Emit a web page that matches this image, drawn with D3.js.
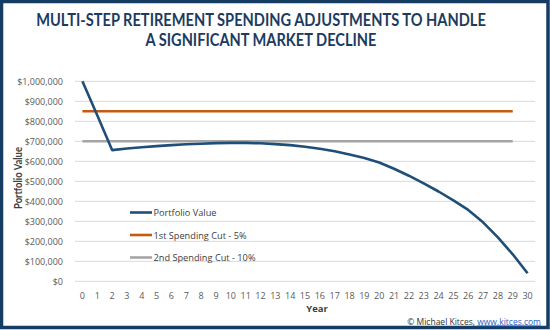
<!DOCTYPE html>
<html>
<head>
<meta charset="utf-8">
<script src="https://cdn.jsdelivr.net/npm/d3@7"></script>
<style>
  body { margin: 0; background: #fff; }
  svg { display: block; }
</style>
</head>
<body>
<div id="chart"></div>
<script>
// Years on the x axis
const years = d3.range(0, 31);

// Portfolio balance by year
const portfolioValue = [
  1000000, 830000, 656000, 664000, 670000, 676000, 681000, 685000, 688000, 691000,
  692000, 692000, 690000, 686000, 681000, 673000, 663000, 650000, 634000, 616000,
  594000, 563000, 528000, 490000, 449000, 405000, 357000, 295000, 220000, 135000,
  40000
];

// Spending cut thresholds (drawn over years 0-29)
const cutYears = d3.range(0, 30);
const firstCut = cutYears.map(() => 850000);
const secondCut = cutYears.map(() => 700000);

const yTicks = d3.range(0, 1000001, 100000);

const titleLines = ["MULTI-STEP RETIREMENT SPENDING ADJUSTMENTS TO HANDLE", "A SIGNIFICANT MARKET DECLINE"];
const seriesNames = ["Portfolio Value", "1st Spending Cut - 5%", "2nd Spending Cut - 10%"];
const seriesColors = ["#1f4e79", "#c55a11", "#a5a5a5"];

const width = 550, height = 330;
const margin = { left: 75, right: 15, top: 81.3, bottom: 48.7 };
const labelFont = "'Open Sans', sans-serif";

const svg = d3.select("#chart").append("svg")
  .attr("width", width)
  .attr("height", height);

// outer frame
svg.append("rect")
  .attr("x", 1.5).attr("y", 1.5)
  .attr("width", width - 3.5).attr("height", height - 4)
  .attr("fill", "#fff")
  .attr("stroke", "#153d63")
  .attr("stroke-width", 3.5);

// title, squeezed horizontally to a condensed look
const titleWidths = [450, 231];
titleLines.forEach((t, i) => {
  const g = svg.append("g");
  const txt = g.append("text")
    .attr("font-family", "Lato, sans-serif")
    .attr("font-weight", "bold")
    .attr("font-size", 17)
    .attr("fill", "#1c3b5e")
    .attr("text-anchor", "middle")
    .text(t);
  const k = titleWidths[i] / txt.node().getComputedTextLength();
  g.attr("transform", `translate(261,${26 + i * 20}) scale(${k},1)`);
});

const x = d3.scaleBand()
  .domain(years)
  .range([margin.left, width - margin.right]);
const xc = d => x(d) + x.bandwidth() / 2;

const y = d3.scaleLinear()
  .domain([0, 1000000])
  .range([height - margin.bottom, margin.top]);

// gridlines
svg.append("g")
  .selectAll("line")
  .data(yTicks)
  .join("line")
  .attr("x1", margin.left).attr("x2", width - margin.right)
  .attr("y1", d => y(d)).attr("y2", d => y(d))
  .attr("stroke", "#d9d9d9")
  .attr("stroke-width", 1);

// y axis labels
const yAxis = svg.append("g")
  .attr("transform", `translate(${margin.left - 12},0)`)
  .call(d3.axisLeft(y).tickValues(yTicks).tickSize(0).tickPadding(0)
    .tickFormat(d => "$" + d3.format(",")(d)));
yAxis.select(".domain").remove();
yAxis.selectAll("text")
  .attr("font-family", labelFont)
  .attr("font-size", 9)
  .attr("fill", "#595959");

// x axis labels
const xAxis = svg.append("g")
  .attr("transform", `translate(0,${height - margin.bottom + 11})`)
  .call(d3.axisBottom(x).tickSize(0).tickPadding(0));
xAxis.select(".domain").remove();
xAxis.selectAll("text")
  .attr("font-family", labelFont)
  .attr("font-size", 9)
  .attr("fill", "#595959");

// axis titles
svg.append("text")
  .attr("x", 317).attr("y", 311.5)
  .attr("text-anchor", "middle")
  .attr("font-family", labelFont)
  .attr("font-weight", "bold")
  .attr("font-size", 9.5)
  .attr("fill", "#404040")
  .text("Year");
svg.append("text")
  .attr("transform", "translate(21.5,178) rotate(-90)")
  .attr("text-anchor", "middle")
  .attr("font-family", "Lato, sans-serif")
  .attr("font-weight", "bold")
  .attr("font-size", 10.5)
  .attr("textLength", 62).attr("lengthAdjust", "spacingAndGlyphs")
  .attr("fill", "#404040")
  .text("Portfolio Value");

// series lines, cut lines first and portfolio on top
const line = d3.line().x(d => xc(d[0])).y(d => y(d[1]));
const series = [
  years.map((yr, i) => [yr, portfolioValue[i]]),
  cutYears.map((yr, i) => [yr, firstCut[i]]),
  cutYears.map((yr, i) => [yr, secondCut[i]])
];
[2, 1, 0].forEach(i => {
  svg.append("path")
    .datum(series[i])
    .attr("d", line)
    .attr("fill", "none")
    .attr("stroke", seriesColors[i])
    .attr("stroke-width", 2.6)
    .attr("stroke-linejoin", "round");
});

// legend
const legendWidths = [63, 93, 102];
const legend = svg.append("g")
  .attr("font-family", labelFont)
  .attr("font-size", 9.5)
  .attr("fill", "#404040");
seriesNames.forEach((name, i) => {
  const ly = 212.5 + i * 22.5;
  legend.append("line")
    .attr("x1", 130).attr("x2", 152)
    .attr("y1", ly).attr("y2", ly)
    .attr("stroke", seriesColors[i])
    .attr("stroke-width", 2.6);
  legend.append("text")
    .attr("x", 153.5).attr("y", ly + 3.5)
    .attr("textLength", legendWidths[i]).attr("lengthAdjust", "spacingAndGlyphs")
    .text(name);
});

// credit
const credit = svg.append("text")
  .attr("x", 541).attr("y", 324.5)
  .attr("text-anchor", "end")
  .attr("font-family", labelFont)
  .attr("font-size", 8.5)
  .attr("fill", "#333");
credit.append("tspan").text("© Michael Kitces, ");
credit.append("tspan")
  .attr("fill", "#1f5fbf")
  .attr("text-decoration", "underline")
  .text("www.kitces.com");
</script>
</body>
</html>
